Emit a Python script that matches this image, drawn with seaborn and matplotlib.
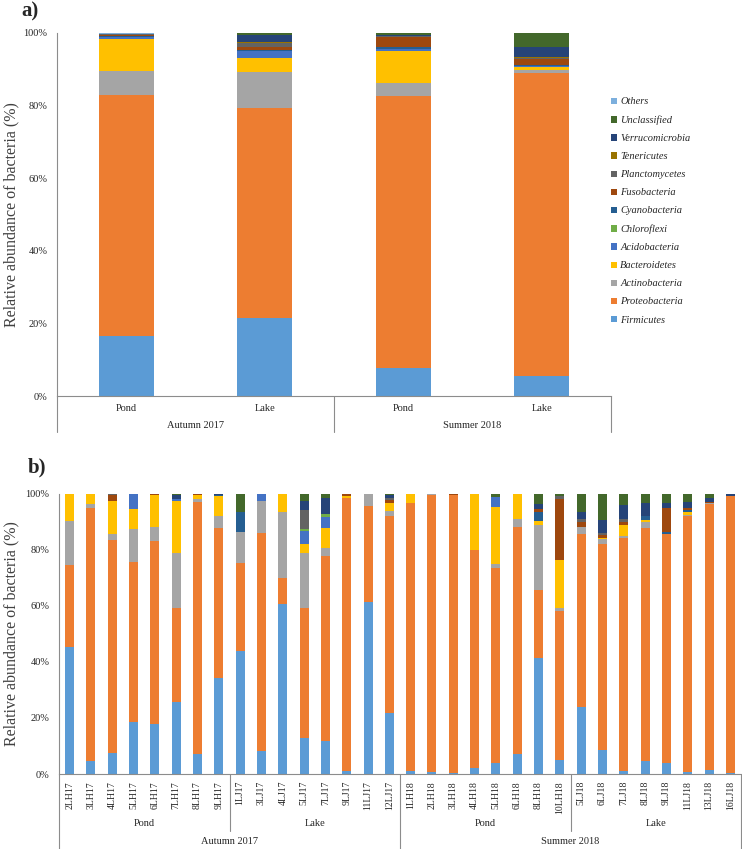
import numpy as np
import pandas as pd
import matplotlib
matplotlib.use("Agg")
import matplotlib.pyplot as plt
import seaborn as sns
from matplotlib.patches import Patch

# -------------------------------
# DATA
# -------------------------------
taxa = ["Firmicutes", "Proteobacteria", "Actinobacteria", "Bacteroidetes",
        "Acidobacteria", "Chloroflexi", "Cyanobacteria", "Fusobacteria",
        "Planctomycetes", "Tenericutes", "Verrucomicrobia", "Unclassified", "Others"]
colors = ["#5B9BD5", "#ED7D31", "#A5A5A5", "#FFC000", "#4472C4", "#70AD47",
          "#255E91", "#9E480E", "#636363", "#997300", "#264478", "#43682B", "#7CAFDD"]

# panel a: one list per bar, taxa order as above
a_keys = ["A17 Pond", "A17 Lake", "S18 Pond", "S18 Lake"]
a_labels = ["Pond", "Lake", "Pond", "Lake"]
autumn17_pond = [16.5, 66.5, 6.6, 8.7, 0.5, 0.0, 0.3, 0.3, 0.3, 0.0, 0.1, 0.0, 0.2]
autumn17_lake = [21.6, 57.8, 9.8, 3.9, 1.9, 0.1, 0.3, 0.7, 1.2, 0.1, 2.0, 0.6, 0.0]
summer18_pond = [7.7, 74.9, 3.7, 8.7, 0.6, 0.0, 0.6, 2.9, 0.1, 0.0, 0.4, 0.5, 0.0]
summer18_lake = [5.5, 83.4, 0.8, 0.8, 0.3, 0.0, 0.5, 1.4, 0.5, 0.1, 2.8, 3.9, 0.0]

# panel b: one list per taxon, 32 samples
samples = ["2LH17", "3LH17", "4LH17", "5LH17", "6LH17", "7LH17", "8LH17", "9LH17",
           "1LJ17", "3LJ17", "4LJ17", "5LJ17", "7LJ17", "9LJ17", "11LJ17", "12LJ17",
           "1LH18", "2LH18", "3LH18", "4LH18", "5LH18", "6LH18", "8LH18", "10LH18",
           "5LJ18", "6LJ18", "7LJ18", "8LJ18", "9LJ18", "11LJ18", "13LJ18", "16LJ18"]
firmicutes = [45.2, 4.8, 7.6, 18.7, 17.7, 25.7, 7.1, 34.3, 44.0, 8.2, 60.5, 13.0, 11.9, 1.1, 61.4, 21.6,
              1.1, 0.7, 0.5, 2.3, 3.8, 7.1, 41.5, 5.0, 24.0, 8.4, 1.1, 4.6, 4.0, 0.8, 1.4, 0.2]
proteobacteria = [29.3, 90.2, 75.8, 57.0, 65.5, 33.4, 89.7, 53.3, 31.2, 77.8, 9.3, 46.3, 65.9, 97.2, 34.3, 70.5,
                  95.4, 98.8, 98.8, 77.6, 69.5, 80.8, 24.1, 53.1, 61.6, 73.5, 82.9, 83.2, 81.6, 91.2, 94.8, 98.8]
actinobacteria = [15.7, 1.3, 2.2, 11.6, 4.8, 19.7, 1.2, 4.4, 11.1, 11.4, 23.7, 19.5, 2.9, 0.0, 4.3, 1.8,
                  0.0, 0.5, 0.3, 0.0, 1.4, 2.9, 23.2, 1.0, 2.6, 1.8, 1.0, 1.9, 0.0, 0.5, 0.4, 0.0]
bacteroidetes = [9.8, 3.5, 11.7, 7.1, 11.4, 18.5, 1.5, 7.2, 0.0, 0.0, 6.5, 3.3, 6.9, 0.9, 0.0, 2.6,
                 3.5, 0.0, 0.0, 19.8, 20.4, 9.2, 1.4, 17.2, 0.0, 0.6, 3.8, 0.9, 0.0, 1.0, 0.0, 0.0]
acidobacteria = [0.0, 0.0, 0.0, 5.6, 0.0, 0.7, 0.0, 0.0, 0.0, 2.6, 0.0, 4.5, 4.1, 0.0, 0.0, 0.0,
                 0.0, 0.0, 0.0, 0.0, 3.8, 0.0, 0.0, 0.0, 0.0, 0.0, 0.0, 0.0, 0.0, 0.0, 0.0, 0.0]
chloroflexi = [0.0, 0.0, 0.0, 0.0, 0.0, 0.0, 0.0, 0.0, 0.0, 0.0, 0.0, 0.6, 0.9, 0.0, 0.0, 0.0,
               0.0, 0.0, 0.0, 0.0, 0.0, 0.0, 0.0, 0.0, 0.0, 0.0, 0.0, 0.0, 0.0, 0.0, 0.0, 0.0]
cyanobacteria = [0.0, 0.0, 0.0, 0.0, 0.0, 0.0, 0.0, 0.3, 7.0, 0.0, 0.0, 0.0, 0.0, 0.0, 0.0, 0.0,
                 0.0, 0.0, 0.0, 0.0, 0.0, 0.0, 3.3, 0.0, 0.0, 0.0, 0.0, 1.5, 0.8, 0.7, 0.0, 0.0]
fusobacteria = [0.0, 0.2, 2.2, 0.0, 0.3, 0.0, 0.5, 0.0, 0.0, 0.0, 0.0, 0.0, 0.0, 0.5, 0.0, 1.2,
                0.0, 0.0, 0.4, 0.0, 0.0, 0.0, 0.9, 21.9, 1.8, 0.8, 1.2, 0.0, 8.3, 0.5, 0.5, 0.0]
planctomycetes = [0.0, 0.0, 0.3, 0.0, 0.0, 0.0, 0.0, 0.0, 0.0, 0.0, 0.0, 6.9, 0.0, 0.0, 0.0, 0.6,
                  0.0, 0.0, 0.0, 0.0, 0.0, 0.0, 0.0, 1.0, 0.8, 0.7, 0.8, 0.0, 0.0, 0.0, 0.0, 0.0]
tenericutes = [0.0, 0.0, 0.0, 0.0, 0.3, 0.0, 0.0, 0.0, 0.0, 0.0, 0.0, 0.0, 0.0, 0.0, 0.0, 0.0,
               0.0, 0.0, 0.0, 0.0, 0.0, 0.0, 0.0, 0.0, 0.0, 0.0, 0.0, 0.0, 0.0, 0.0, 0.0, 0.0]
verrucomicrobia = [0.0, 0.0, 0.0, 0.0, 0.0, 1.6, 0.0, 0.5, 0.0, 0.0, 0.0, 3.3, 5.7, 0.3, 0.0, 1.2,
                   0.0, 0.0, 0.0, 0.0, 0.0, 0.0, 1.8, 0.0, 2.7, 4.8, 5.1, 4.4, 1.8, 2.4, 1.2, 0.8]
unclassified = [0.0, 0.0, 0.0, 0.0, 0.0, 0.4, 0.0, 0.0, 6.7, 0.0, 0.0, 2.6, 1.7, 0.0, 0.0, 0.5,
                0.0, 0.0, 0.0, 0.3, 1.1, 0.0, 3.7, 0.8, 6.5, 9.4, 4.1, 3.5, 3.5, 2.9, 1.7, 0.2]
others = [0.0, 0.0, 0.2, 0.0, 0.0, 0.0, 0.0, 0.0, 0.0, 0.0, 0.0, 0.0, 0.0, 0.0, 0.0, 0.0,
          0.0, 0.0, 0.0, 0.0, 0.0, 0.0, 0.1, 0.0, 0.0, 0.0, 0.0, 0.0, 0.0, 0.0, 0.0, 0.0]

# -------------------------------
# BUILD LONG TABLES (100% stacked)
# -------------------------------
def stacked_table(keys, matrix):
    m = np.array(matrix, dtype=float)          # taxa x samples
    m = m / m.sum(axis=0) * 100
    cum = np.cumsum(m, axis=0)
    rows = []
    for i, t in enumerate(taxa):
        for j, k in enumerate(keys):
            rows.append((k, t, cum[i, j]))
    return pd.DataFrame(rows, columns=["sample", "taxon", "cum"])

df_a = stacked_table(a_keys, np.array([autumn17_pond, autumn17_lake,
                                       summer18_pond, summer18_lake]).T)
df_b = stacked_table(samples, [firmicutes, proteobacteria, actinobacteria, bacteroidetes,
                               acidobacteria, chloroflexi, cyanobacteria, fusobacteria,
                               planctomycetes, tenericutes, verrucomicrobia, unclassified, others])

sns.set_style("white")
plt.rcParams['font.family'] = ['Liberation Serif', 'DejaVu Serif']

W, H = 742, 849
fig = plt.figure(figsize=(W / 100, H / 100), dpi=100)
ax_a = fig.add_axes([57 / W, 1 - 396 / H, 554 / W, 363 / H])
ax_b = fig.add_axes([59 / W, 1 - 774 / H, 682 / W, 280.5 / H])

axis_col = "#8C8C8C"
txt_col = "#262626"


def draw_stack(ax, df, order, width):
    # draw tallest cumulative first, lower layers cover it
    for t, c in zip(taxa[::-1], colors[::-1]):
        sns.barplot(data=df[df.taxon == t], x="sample", y="cum", order=order,
                    color=c, saturation=1, width=width, errorbar=None,
                    linewidth=0, ax=ax)
    ax.set_xlim(-0.5, len(order) - 0.5)
    ax.set_ylim(0, 100)
    ax.set_yticks(range(0, 101, 20))
    ax.set_yticklabels([f"{v}%" for v in range(0, 101, 20)], fontsize=7.5, color=txt_col)
    ax.tick_params(axis="both", length=0)
    ax.tick_params(axis="y", pad=7)
    for s in ["top", "right"]:
        ax.spines[s].set_visible(False)
    for s in ["left", "bottom"]:
        ax.spines[s].set_color(axis_col)
        ax.spines[s].set_linewidth(0.8)
    ax.set_xlabel("")
    ax.set_ylabel("Relative abundance of bacteria (%)", fontsize=11.5, color="#404040")


def vline(ax, x, y_end):
    ax.plot([x, x], [0, y_end], transform=ax.get_xaxis_transform(),
            clip_on=False, color=axis_col, lw=0.8)


# -------------------------------
# a) pooled groups
# -------------------------------
draw_stack(ax_a, df_a, a_keys, 0.4)
ax_a.set_xticks(range(4))
ax_a.set_xticklabels(a_labels, fontsize=7.5, color=txt_col)
ax_a.tick_params(axis="x", pad=6)
ax_a.yaxis.set_label_coords(-0.068, 0.5)
for x in [-0.5, 1.5, 3.5]:
    vline(ax_a, x, -0.099)
for x, lab in [(0.5, "Autumn 2017"), (2.5, "Summer 2018")]:
    ax_a.text(x, -0.080, lab, transform=ax_a.get_xaxis_transform(),
              ha="center", va="center", fontsize=7.5, color=txt_col)

handles = [Patch(facecolor=c, edgecolor="none") for c in colors[::-1]]
fig.legend(handles, taxa[::-1], loc="upper left", bbox_to_anchor=(602 / W, 1 - 88 / H),
           frameon=False, prop={"style": "italic", "size": 7.5},
           handlelength=0.55, handleheight=0.55, handletextpad=0.3,
           labelspacing=0.87, labelcolor=txt_col)

# -------------------------------
# b) individual samples
# -------------------------------
draw_stack(ax_b, df_b, samples, 0.42)
ax_b.set_xticks(range(len(samples)))
ax_b.set_xticklabels(samples, rotation=90, fontsize=7, color=txt_col)
ax_b.tick_params(axis="x", pad=5)
ax_b.yaxis.set_label_coords(-0.058, 0.5)
for x in [7.5, 23.5]:
    vline(ax_b, x, -0.203)
for x in [-0.5, 15.5, 31.5]:
    vline(ax_b, x, -0.267)
for x, lab in [(3.5, "Pond"), (11.5, "Lake"), (19.5, "Pond"), (27.5, "Lake")]:
    ax_b.text(x, -0.178, lab, transform=ax_b.get_xaxis_transform(),
              ha="center", va="center", fontsize=7.5, color=txt_col)
for x, lab in [(7.5, "Autumn 2017"), (23.5, "Summer 2018")]:
    ax_b.text(x, -0.239, lab, transform=ax_b.get_xaxis_transform(),
              ha="center", va="center", fontsize=7.5, color=txt_col)

fig.text(21 / W, 1 - 11 / H, "a)", fontsize=15, fontweight="bold", va="center", ha="left")
fig.text(28 / W, 1 - 467 / H, "b)", fontsize=15, fontweight="bold", va="center", ha="left")

fig.savefig("out.png", dpi=100)
